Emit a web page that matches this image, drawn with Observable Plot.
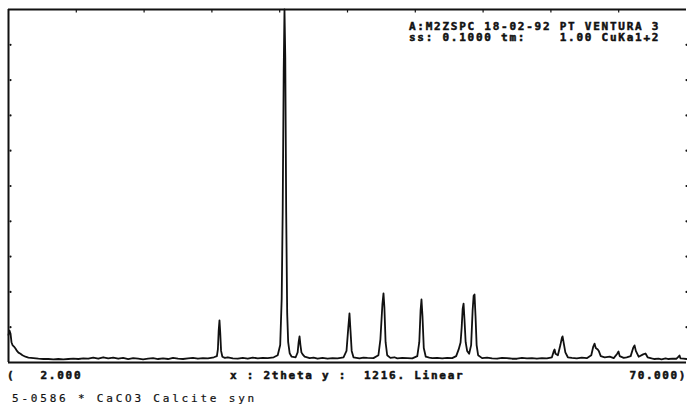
<!DOCTYPE html>
<html>
<head>
<meta charset="utf-8">
<script src="https://cdn.jsdelivr.net/npm/d3@7"></script>
<script src="https://cdn.jsdelivr.net/npm/@observablehq/plot@0.6"></script>
<style>
  html, body { margin: 0; padding: 0; background: #fff; }
  #wrap { position: relative; width: 687px; height: 409px; overflow: hidden; background: #fff; }
  .mono { position: absolute; font-family: "DejaVu Sans Mono", monospace; font-weight: bold; color: #111; white-space: pre; line-height: 10px; -webkit-text-stroke: 0.5px #111; }
  #hdr { left: 409px; top: 21px; font-size: 11px; letter-spacing: 1.75px; line-height: 11px; }
  #b1 { left: 7px; top: 371px; font-size: 11px; letter-spacing: 1.75px; }
  #b2 { left: 230px; top: 371px; font-size: 11px; letter-spacing: 1.75px; }
  #b3 { right: 0px; top: 371px; font-size: 11px; letter-spacing: 1.6px; }
  #b4 { left: 12px; top: 394px; font-size: 11px; letter-spacing: 2.8px; font-weight: normal; -webkit-text-stroke: 0.2px #111; }
</style>
</head>
<body>
<div id="wrap"></div>
<script>
// 2theta (degrees) and intensity (counts)
const twoTheta = [
  2.00, 2.10, 2.20, 2.30, 2.40, 2.55, 2.70, 2.85, 3.00, 3.20, 3.40, 3.70, 4.00, 4.50, 5.00, 5.50,
  6.00, 6.50, 7.00, 7.50, 8.00, 8.50, 9.00, 9.50, 10.0, 10.5, 11.0, 11.5, 12.0, 12.5, 13.0, 13.5,
  14.0, 14.5, 15.0, 15.5, 16.0, 16.5, 17.0, 17.5, 18.0, 18.5, 19.0, 19.5, 20.0, 20.5, 21.0, 21.5, 22.0, 22.6,
  22.9, 23.0, 23.08, 23.16, 23.24, 23.32, 23.45, 23.7, 24.0, 24.5, 25.0, 25.5, 26.0, 26.5, 27.0, 27.5, 28.0, 28.6,
  29.0, 29.25, 29.4, 29.5, 29.6, 29.68, 29.76, 29.85, 29.95, 30.05, 30.2, 30.4, 30.8,
  31.0, 31.1, 31.19, 31.28, 31.38, 31.5, 31.7, 32.2, 32.6, 33.0, 33.5, 34.0, 34.5, 35.0, 35.6,
  35.9, 36.08, 36.2, 36.3, 36.42, 36.6, 37.2, 37.6, 38.0, 38.6,
  39.1, 39.3, 39.5, 39.61, 39.7, 39.82, 39.98, 40.3, 40.7, 41.0, 41.5, 42.0, 42.5,
  43.0, 43.2, 43.33, 43.42, 43.52, 43.65, 43.85, 44.2, 44.5, 45.0, 45.5, 46.0, 46.5,
  46.9, 47.15, 47.34, 47.45, 47.55, 47.64, 47.73, 47.85, 48.0, 48.2,
  48.4, 48.55, 48.65, 48.74, 48.84, 48.95, 49.1, 49.5, 50.0, 50.5, 51.0, 51.5, 52.0, 52.5, 53.0, 53.5, 54.0, 54.5, 55.0, 55.5, 56.0,
  56.5, 56.7, 56.77, 56.86, 57.1, 57.35, 57.5, 57.57, 57.67, 57.85, 58.1, 58.5, 59.0, 59.5, 60.0,
  60.45, 60.65, 60.78, 60.9, 61.1, 61.2, 61.4, 61.8, 62.3, 62.7,
  63.05, 63.18, 63.3, 63.7, 64.0, 64.4, 64.65, 64.79, 64.92, 65.2, 65.65, 65.89, 66.1,
  66.5, 66.8, 67.2, 67.5, 67.9, 68.2, 68.6, 69.0, 69.2, 69.3, 69.4, 69.7, 70.0
];
const counts = [
  95, 110, 100, 70, 60, 55, 48, 40, 34, 30, 25, 20, 17, 15, 13, 12,
  12, 11, 12, 11, 12, 13, 12, 14, 13, 17, 13, 18, 14, 17, 13, 16,
  12, 15, 13, 11, 13, 15, 12, 14, 12, 16, 13, 12, 14, 16, 13, 15, 14, 18,
  22, 45, 110, 145, 100, 40, 20, 16, 18, 14, 13, 16, 13, 17, 14, 16, 15, 18,
  25, 60, 220, 520, 1000, 1216, 1050, 520, 170, 70, 32, 20, 18,
  35, 70, 90, 60, 35, 28, 20, 15, 17, 13, 16, 13, 15, 14, 18,
  40, 120, 169, 110, 40, 18, 14, 17, 16, 15,
  25, 80, 200, 238, 190, 70, 25, 16, 18, 14, 16, 15, 14,
  22, 70, 180, 217, 160, 50, 20, 17, 15, 16, 14, 16, 15,
  22, 45, 69, 120, 185, 203, 150, 70, 40, 30,
  60, 180, 230, 234, 160, 60, 25, 15, 17, 14, 13, 16, 15, 13, 13, 16, 14, 15, 13, 15, 14,
  18, 40, 45, 30, 25, 60, 85, 90, 70, 35, 18, 16, 14, 17, 15,
  25, 55, 65, 50, 45, 40, 22, 18, 20, 15,
  30, 38, 22, 16, 18, 22, 50, 59, 40, 20, 28, 31, 18,
  14, 12, 13, 11, 14, 12, 13, 13, 20, 24, 14, 13, 12
];
const yTicks = [121.6, 243.2, 364.8, 486.4, 608, 729.6, 851.2, 972.8, 1094.4];
const topTicks = [8.8, 15.6, 22.4, 29.2, 36, 42.8, 49.6, 56.4, 63.2];
const xDomain = [2, 70];
const yMax = 1216;

const scan = twoTheta.map((t, i) => ({t, c: counts[i]}));

const chart = Plot.plot({
  width: 687,
  height: 366,
  marginTop: 9,
  marginBottom: 4,
  marginLeft: 8,
  marginRight: 1,
  x: {domain: xDomain, axis: null},
  y: {domain: [0, yMax], axis: null},
  marks: [
    Plot.line(scan, {x: "t", y: "c", stroke: "#111", strokeWidth: 1.8, strokeLinejoin: "round", curve: "linear"}),
    Plot.ruleX([xDomain[0]], {stroke: "#111", strokeWidth: 2}),
    Plot.ruleY([0], {stroke: "#111", strokeWidth: 2}),
    Plot.ruleY([yMax], {stroke: "#111", strokeWidth: 2}),
    Plot.ruleX(topTicks, {x: d => d, y1: yMax, y2: yMax - 12, stroke: "#111", strokeWidth: 1.2}),
    Plot.dot(yTicks, {x: xDomain[0], y: d => d, r: 1.1, dx: 2, fill: "#111", stroke: null}),
    Plot.dot(yTicks, {x: xDomain[1], y: d => d, r: 1.1, fill: "#111", stroke: null})
  ]
});

const wrap = document.getElementById("wrap");
chart.style.display = "block";
wrap.appendChild(chart);

function addText(id, txt) {
  const d = document.createElement("div");
  d.className = "mono";
  d.id = id;
  d.textContent = txt;
  wrap.appendChild(d);
}
addText("hdr", "A:M2ZSPC 18-02-92 PT VENTURA 3\nss: 0.1000 tm:    1.00 CuKa1+2");
addText("b1", "(   2.000");
addText("b2", "x : 2theta y :  1216. Linear");
addText("b3", "70.000)");
addText("b4", "5-0586 * CaCO3 Calcite syn");
</script>
</body>
</html>
